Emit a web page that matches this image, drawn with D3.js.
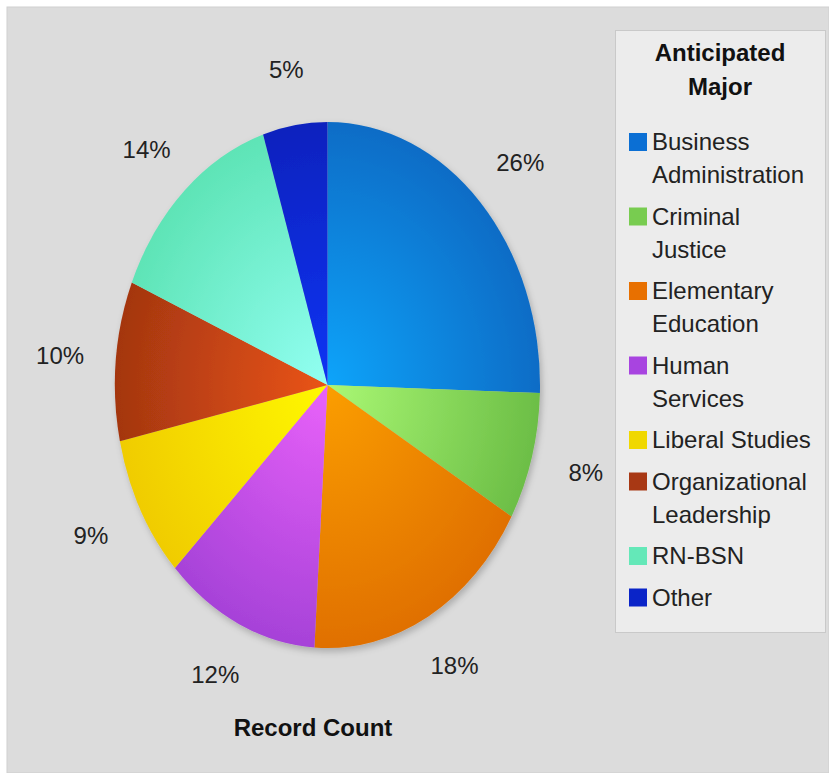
<!DOCTYPE html>
<html><head><meta charset="utf-8">
<script src="https://cdn.jsdelivr.net/npm/d3@7"></script>
<style>body{margin:0;background:#fff}svg{display:block;font-family:"Liberation Sans",Arial,sans-serif}</style>
</head><body>
<svg id="c" width="829" height="773"></svg>
<script>
const categories = ["Business Administration","Criminal Justice","Elementary Education","Human Services","Liberal Studies","Organizational Leadership","RN-BSN","Other"];
const legendLines = [["Business","Administration"],["Criminal","Justice"],["Elementary","Education"],["Human","Services"],["Liberal Studies"],["Organizational","Leadership"],["RN-BSN"],["Other"]];
const percents = [26, 8, 18, 12, 9, 10, 14, 5];
const labels = ["26%","8%","18%","12%","9%","10%","14%","5%"];
const swatch = ["#0b6fd4","#78cc50","#e87000","#a844e0","#f0d800","#a83814","#64e8b8","#0a24c8"];
const inner = ["#0ea4fa","#aaf874","#fb9e00","#ea62fa","#fff800","#ea5418","#92fff2","#1034f4"];
const outer = ["#0b6cc6","#6cbe46","#e07000","#a642d8","#f0cc00","#a43610","#5ee4b6","#0a22be"];

const svg = d3.select("#c");
svg.append("rect").attr("x",7).attr("y",7).attr("width",822).attr("height",766).attr("fill","#dcdcdc").attr("stroke","#cfcfcf");

const defs = svg.append("defs");
const rx = 212.5, ry = 263, cx = 327.5, cy = 385;
categories.forEach((c,i)=>{
  const g = defs.append("radialGradient").attr("id","g"+i).attr("gradientUnits","userSpaceOnUse")
    .attr("cx",0).attr("cy",0).attr("r",rx);
  g.append("stop").attr("offset","0%").attr("stop-color",inner[i]);
  g.append("stop").attr("offset","100%").attr("stop-color",outer[i]);
});
const f = defs.append("filter").attr("id","sh").attr("x","-10%").attr("y","-10%").attr("width","130%").attr("height","130%");
f.append("feDropShadow").attr("dx",2).attr("dy",3).attr("stdDeviation",3).attr("flood-color","#000").attr("flood-opacity",0.22);

const pie = d3.pie().sort(null).value(d=>d);
const arcs = pie(percents);
const arc = d3.arc().innerRadius(0).outerRadius(rx);
const pg = svg.append("g").attr("transform",`translate(${cx},${cy}) scale(1,${ry/rx})`);
const sg = pg.append("g").attr("filter","url(#sh)");
sg.selectAll("path").data(arcs).join("path").attr("d",arc).attr("fill",(d,i)=>`url(#g${i})`);

const off = 56;
const mid = d => (d.startAngle+d.endAngle)/2;
svg.append("g").selectAll("text").data(arcs).join("text")
  .attr("x",d=>cx+Math.sin(mid(d))*(rx+off))
  .attr("y",d=>cy-Math.cos(mid(d))*(ry+off))
  .attr("dy","0.35em").attr("text-anchor","middle").attr("font-size",24).attr("fill","#222")
  .text((d,i)=>labels[i]);

svg.append("text").attr("x",313).attr("y",736).attr("text-anchor","middle").attr("font-size",24)
  .attr("font-weight","bold").attr("fill","#111").text("Record Count");

// legend
const lg = svg.append("g");
lg.append("rect").attr("x",615.5).attr("y",30.5).attr("width",210).attr("height",602).attr("fill","#ececec").attr("stroke","#c9c9c9");
lg.append("text").attr("x",720).attr("y",61).attr("text-anchor","middle").attr("font-size",24).attr("font-weight","bold").attr("fill","#111").text("Anticipated");
lg.append("text").attr("x",720).attr("y",95).attr("text-anchor","middle").attr("font-size",24).attr("font-weight","bold").attr("fill","#111").text("Major");
let y = 150;
categories.forEach((c,i)=>{
  lg.append("rect").attr("x",629).attr("y",y-17).attr("width",18).attr("height",18).attr("fill",swatch[i]);
  legendLines[i].forEach((t,j)=>{
    lg.append("text").attr("x",652).attr("y",y+j*33).attr("font-size",24).attr("fill","#222").text(t);
  });
  y += (legendLines[i].length-1)*33 + 41.5;
});
</script>
</body></html>
